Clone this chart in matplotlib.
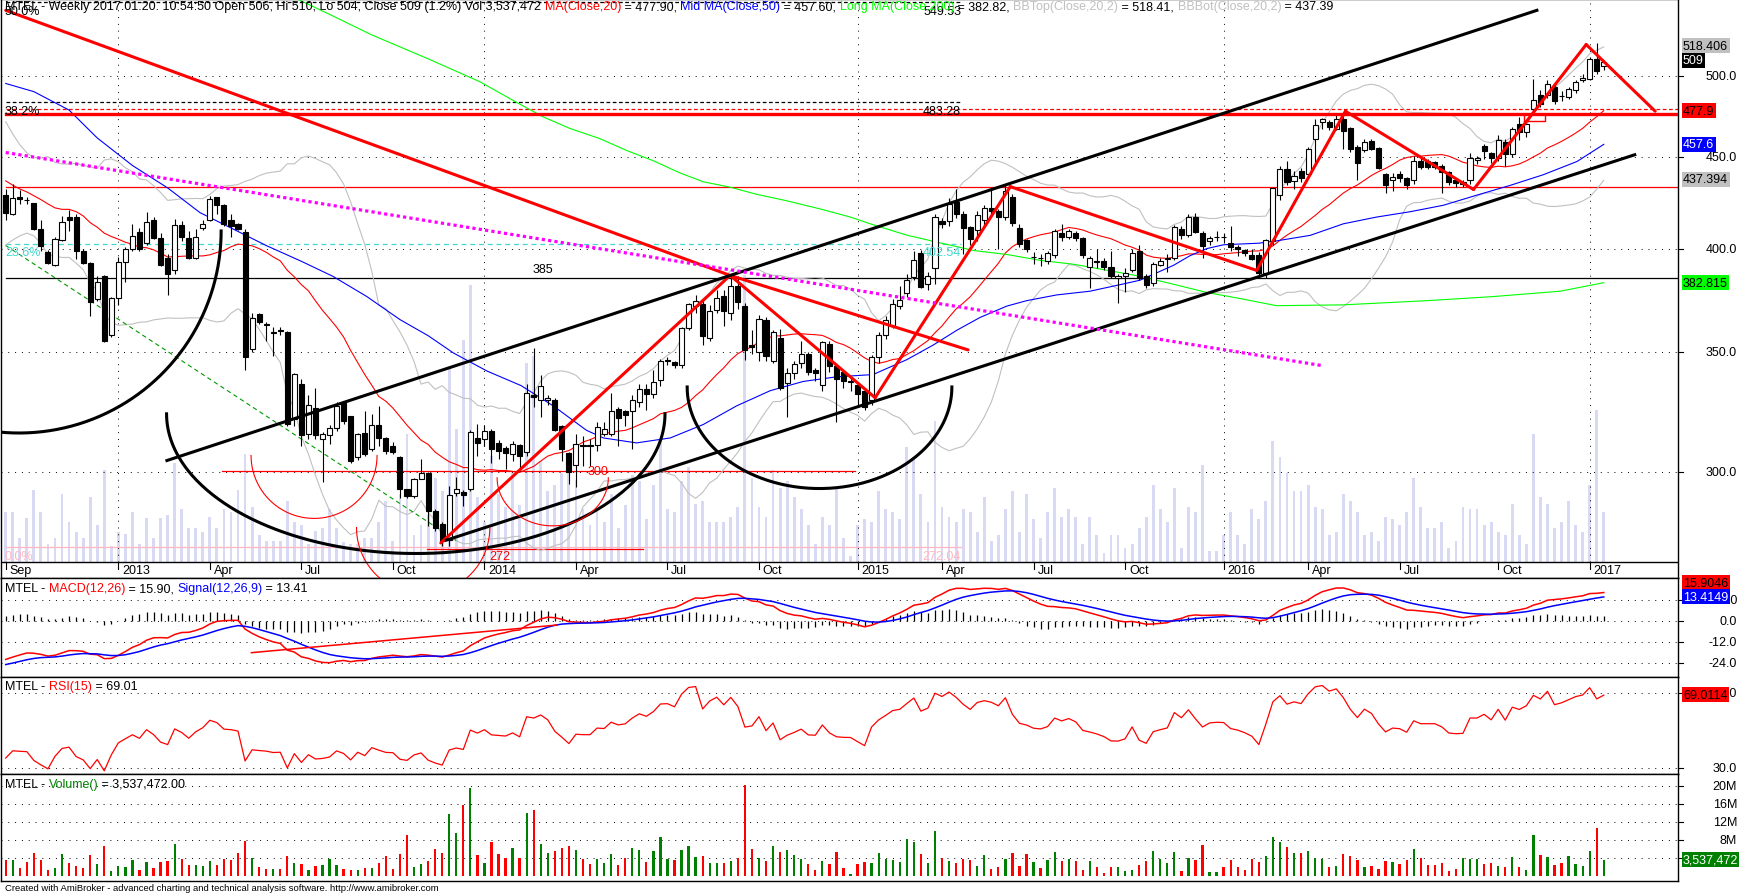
import numpy as np
import matplotlib
matplotlib.use("Agg")
import matplotlib.pyplot as plt
from matplotlib.transforms import blended_transform_factory

plt.rcParams['font.family'] = ['Liberation Sans', 'DejaVu Sans']

# MTEL weekly bars, first visible bar = first week of Sep 2012, last = 2017.01.20
opens = [
    428.8, 418.3, 427.6, 426.1, 424.3, 410.0, 398.2, 391.7, 404.3, 416.5,
    416.5, 399.0, 392.8, 374.9, 386.1, 357.9, 375.3, 393.3, 400.0, 408.9,
    402.7, 414.9, 405.7, 395.2, 389.0, 412.3, 405.7, 395.4, 410.6, 414.9,
    427.3, 422.9, 414.9, 413.1, 408.9, 351.3, 367.5, 362.9, 358.5, 360.0,
    359.2, 321.1, 336.0, 315.1, 325.8, 312.8, 314.3, 317.3, 327.6, 322.2,
    305.7, 315.4, 308.8, 318.6, 313.1, 310.2, 305.5, 293.3, 290.7, 297.1,
    299.4, 285.0, 280.5, 274.5, 291.9, 292.3, 293.3, 313.3, 312.8, 316.1,
    311.3, 309.4, 307.0, 310.4, 307.6, 331.0, 329.0, 329.0, 329.0, 318.0,
    307.3, 302.5, 310.4, 310.4, 310.4, 315.1, 315.1, 325.1, 324.2, 324.2,
    328.1, 333.7, 331.7, 337.6, 346.2, 345.5, 344.3, 360.9, 371.4, 372.5,
    356.6, 369.7, 376.4, 367.9, 381.3, 371.4, 353.3, 349.9, 364.6, 346.2,
    356.3, 336.2, 340.9, 345.2, 349.3, 342.1, 335.4, 353.7, 343.7, 341.1,
    336.8, 335.4, 333.0, 328.9, 347.8, 357.8, 362.0, 371.5, 377.6, 385.5,
    397.8, 382.2, 390.0, 414.5, 414.5, 424.9, 418.5, 411.2, 409.6, 414.9,
    421.5, 419.9, 416.5, 427.6, 410.6, 404.3, 395.6, 395.2, 393.7, 396.9,
    408.0, 406.0, 408.0, 405.7, 390.5, 393.5, 393.8, 390.5, 385.0, 386.3,
    389.1, 398.6, 386.1, 382.6, 391.5, 394.5, 395.4, 410.4, 407.1, 416.5,
    408.0, 403.7, 406.0, 406.2, 402.8, 400.8, 399.3, 396.6, 396.6, 387.5,
    403.9, 428.9, 443.2, 436.7, 442.3, 440.4, 461.0, 471.0, 471.0, 467.0,
    472.6, 467.4, 455.9, 454.1, 459.7, 455.3, 440.2, 437.0, 440.2, 437.9,
    436.9, 448.0, 447.7, 447.1, 445.1, 441.5, 436.9, 434.8, 436.9, 448.2,
    456.9, 452.3, 449.5, 459.2, 452.0, 469.8, 465.0, 478.7, 487.4, 487.6,
    492.7, 487.2, 486.6, 491.0, 497.4, 498.1, 511.2, 506.0,
]
highs = [
    432.0, 434.8, 431.4, 427.5, 424.5, 415.1, 399.3, 405.9, 417.0, 420.5,
    418.0, 400.0, 393.1, 386.2, 386.5, 375.9, 395.5, 401.0, 412.9, 411.0,
    419.3, 416.7, 408.0, 397.0, 415.7, 414.5, 409.0, 410.3, 414.9, 428.2,
    427.8, 423.7, 418.0, 413.5, 410.0, 368.0, 368.0, 363.8, 361.5, 361.5,
    359.5, 340.5, 338.0, 331.2, 334.0, 315.8, 318.5, 328.0, 328.0, 322.5,
    315.5, 324.5, 323.0, 326.5, 313.5, 311.5, 306.0, 293.5, 297.5, 304.8,
    300.0, 286.0, 281.0, 294.3, 298.0, 293.0, 316.5, 318.8, 318.4, 317.0,
    312.5, 310.0, 312.0, 311.0, 336.0, 351.7, 340.0, 331.0, 330.0, 318.5,
    307.5, 315.0, 314.0, 313.0, 320.0, 320.0, 332.0, 326.0, 325.0, 331.0,
    336.0, 336.0, 342.0, 347.0, 348.0, 346.0, 361.5, 373.0, 377.0, 375.0,
    372.0, 379.0, 379.0, 387.0, 386.0, 373.0, 360.0, 367.0, 366.0, 360.0,
    360.5, 343.0, 346.0, 355.0, 350.0, 343.0, 355.0, 355.0, 345.0, 342.0,
    339.0, 336.0, 334.0, 348.5, 359.0, 366.5, 375.0, 381.0, 387.0, 399.0,
    399.5, 388.0, 418.5, 416.0, 427.0, 432.2, 420.0, 412.0, 420.0, 423.0,
    432.0, 421.0, 434.8, 429.0, 413.0, 405.0, 398.5, 397.0, 399.0, 410.0,
    412.9, 410.0, 409.0, 406.0, 396.0, 400.0, 395.0, 399.0, 387.0, 390.0,
    400.0, 402.0, 387.0, 393.0, 395.0, 397.0, 412.5, 412.0, 418.5, 419.0,
    409.0, 406.5, 409.0, 408.0, 412.0, 402.0, 400.0, 400.0, 398.0, 405.0,
    433.0, 445.0, 448.0, 442.0, 444.0, 456.0, 472.8, 473.5, 472.0, 475.0,
    476.0, 468.0, 457.0, 461.0, 461.0, 456.0, 441.0, 441.0, 442.0, 439.0,
    451.0, 450.0, 449.0, 448.0, 446.0, 442.0, 438.0, 437.0, 452.5, 450.5,
    458.0, 453.0, 463.0, 461.0, 468.0, 474.0, 470.5, 498.1, 491.0, 497.0,
    496.0, 490.0, 493.0, 497.0, 501.0, 512.0, 521.5, 510.0,
]
lows = [
    414.9, 417.7, 423.7, 423.7, 409.6, 398.7, 392.1, 391.2, 403.7, 409.0,
    394.9, 392.0, 366.9, 374.0, 354.5, 356.9, 372.0, 383.0, 399.0, 399.0,
    402.0, 405.0, 391.0, 377.0, 387.0, 404.0, 394.8, 394.8, 409.8, 414.5,
    418.0, 412.0, 406.0, 409.5, 342.2, 350.0, 363.0, 355.0, 348.3, 357.8,
    318.0, 318.0, 310.0, 313.0, 313.0, 296.0, 311.0, 316.0, 319.0, 303.5,
    304.5, 306.0, 308.0, 310.0, 307.0, 307.0, 289.8, 290.0, 290.0, 297.0,
    279.5, 278.0, 272.6, 272.6, 290.5, 287.0, 292.5, 306.0, 310.0, 303.5,
    305.0, 300.8, 304.0, 300.4, 306.0, 325.9, 322.0, 327.0, 316.0, 304.0,
    295.4, 294.0, 302.0, 302.0, 308.0, 314.0, 314.0, 310.0, 318.0, 309.0,
    326.0, 325.0, 330.0, 335.0, 344.0, 343.0, 343.0, 360.0, 368.0, 353.0,
    355.0, 368.0, 362.0, 365.0, 370.0, 346.5, 349.0, 346.0, 346.0, 345.0,
    333.5, 322.0, 338.0, 343.0, 340.0, 337.0, 333.0, 341.0, 320.0, 334.0,
    333.0, 326.0, 324.6, 327.0, 345.0, 356.0, 361.0, 370.0, 376.0, 384.0,
    380.0, 379.0, 382.0, 411.0, 412.0, 416.0, 397.0, 402.0, 404.0, 412.0,
    418.0, 400.0, 415.0, 412.0, 401.0, 398.0, 392.0, 391.0, 392.0, 395.0,
    404.0, 405.0, 404.0, 395.0, 380.0, 390.0, 389.0, 385.0, 372.7, 378.0,
    388.0, 384.0, 380.0, 381.0, 391.0, 388.0, 394.0, 405.0, 406.0, 408.0,
    395.0, 402.0, 404.0, 403.0, 399.0, 396.0, 396.0, 394.0, 385.0, 385.0,
    402.0, 426.0, 434.0, 432.0, 436.0, 438.0, 447.0, 467.0, 466.0, 466.0,
    455.0, 453.0, 437.0, 453.0, 454.0, 443.0, 430.0, 431.0, 436.0, 432.0,
    435.0, 443.0, 443.0, 443.0, 430.0, 434.0, 433.0, 433.0, 435.0, 446.0,
    449.0, 447.0, 448.0, 445.0, 450.0, 460.0, 462.0, 477.0, 480.0, 486.0,
    482.0, 484.0, 485.0, 489.0, 496.0, 497.0, 501.0, 504.0,
]
closes = [
    418.9, 427.2, 426.3, 425.7, 410.0, 401.1, 392.4, 405.1, 413.9, 415.3,
    399.0, 392.6, 373.3, 383.1, 355.0, 375.3, 393.3, 400.0, 406.5, 400.0,
    414.1, 405.7, 391.7, 386.9, 412.3, 405.9, 395.4, 406.1, 413.1, 426.7,
    423.1, 412.9, 412.1, 410.0, 347.8, 365.7, 363.8, 362.4, 359.2, 359.6,
    318.8, 340.1, 314.3, 327.0, 314.3, 315.1, 317.3, 326.5, 320.3, 304.0,
    315.1, 306.9, 318.6, 313.1, 308.2, 307.6, 293.3, 290.7, 297.1, 299.4,
    285.0, 278.8, 274.2, 290.9, 293.3, 290.9, 315.8, 311.3, 316.1, 308.8,
    308.0, 307.2, 310.8, 306.0, 332.0, 330.5, 335.0, 329.8, 316.5, 308.8,
    299.9, 310.8, 310.2, 310.2, 317.6, 317.1, 324.2, 321.6, 322.7, 328.9,
    333.7, 331.7, 336.8, 346.0, 346.4, 344.3, 360.9, 372.3, 374.0, 357.2,
    369.1, 375.5, 369.1, 381.3, 373.2, 351.0, 352.5, 365.5, 348.1, 359.2,
    334.0, 340.5, 344.6, 349.3, 341.0, 340.5, 354.5, 343.7, 338.0, 337.2,
    337.0, 331.5, 326.1, 347.8, 357.8, 364.6, 372.3, 374.3, 384.0, 394.0,
    380.7, 385.9, 416.5, 413.0, 423.5, 418.0, 410.6, 404.9, 417.9, 421.5,
    419.9, 416.5, 431.1, 413.3, 402.2, 399.9, 395.9, 395.0, 397.9, 409.0,
    406.0, 409.0, 405.7, 396.9, 395.2, 393.2, 390.5, 386.1, 385.9, 387.6,
    397.6, 385.1, 381.7, 391.9, 393.8, 395.4, 411.4, 407.1, 416.5, 408.8,
    401.2, 405.5, 406.2, 406.0, 401.0, 399.7, 397.6, 394.8, 387.5, 404.3,
    432.6, 443.2, 435.7, 439.5, 438.0, 454.7, 469.4, 472.6, 468.0, 472.6,
    465.5, 455.0, 446.9, 459.2, 455.0, 443.7, 434.2, 438.9, 438.2, 434.3,
    447.7, 444.7, 444.7, 444.7, 441.8, 436.1, 435.5, 435.8, 449.8, 449.8,
    453.5, 449.5, 460.2, 452.0, 467.0, 465.2, 469.8, 484.8, 482.1, 494.6,
    484.0, 486.8, 491.4, 496.2, 498.8, 511.2, 502.9, 509.0,
]
# weekly volume, millions of shares
volume = [
    3.5, 3.5, 1.7, 3.1, 5.1, 3.5, 1.3, 1.7, 4.8, 2.8,
    2.1, 1.7, 4.6, 2.6, 6.5, 1.1, 2.1, 2.0, 3.5, 1.3,
    3.1, 1.7, 3.1, 3.3, 7.0, 3.7, 2.4, 2.4, 2.1, 3.2,
    2.4, 3.7, 3.5, 5.1, 7.6, 3.9, 1.9, 1.5, 1.5, 1.5,
    4.3, 2.8, 2.6, 1.3, 2.2, 2.4, 3.7, 2.4, 1.4, 1.3,
    1.25, 1.7, 1.7, 2.8, 4.3, 1.5, 4.8, 9.0, 1.9, 2.6,
    3.3, 5.9, 5.0, 13.6, 9.4, 15.6, 19.5, 4.6, 2.8, 7.5,
    4.8, 3.9, 6.25, 4.0, 14.0, 14.5, 7.1, 5.0, 5.4, 6.25,
    6.5, 5.8, 3.7, 2.6, 3.7, 2.8, 4.8, 2.4, 4.0, 6.1,
    5.7, 3.0, 5.4, 8.5, 3.7, 3.5, 5.7, 6.7, 4.1, 4.3,
    2.8, 2.8, 2.8, 3.2, 3.9, 20.2, 5.9, 3.9, 3.2, 6.5,
    5.2, 5.7, 4.6, 3.7, 2.6, 1.25, 3.2, 2.6, 5.2, 1.7,
    0.4, 2.6, 3.0, 2.8, 5.0, 3.7, 3.5, 3.0, 8.1, 7.4,
    4.8, 2.8, 9.9, 3.9, 3.2, 2.8, 3.7, 3.5, 2.1, 4.6,
    1.5, 1.9, 3.7, 5.0, 2.1, 4.8, 3.0, 1.7, 3.5, 5.2,
    3.2, 3.7, 3.2, 1.25, 3.2, 1.9, 0.6, 1.9, 1.9, 1.0,
    1.25, 2.4, 3.2, 5.4, 3.7, 2.8, 5.2, 1.0, 3.9, 3.5,
    6.8, 0.8, 0.8, 1.9, 3.5, 1.9, 1.25, 3.7, 3.0, 4.3,
    8.5, 7.4, 6.3, 5.0, 5.0, 5.4, 3.9, 3.7, 1.9, 2.1,
    4.8, 4.3, 3.5, 1.9, 2.1, 1.5, 3.2, 3.0, 2.6, 3.5,
    5.9, 3.9, 2.4, 2.4, 2.8, 1.0, 1.5, 3.9, 3.7, 3.7,
    2.6, 2.8, 2.1, 1.9, 4.1, 1.9, 1.25, 9.0, 4.6, 4.1,
    2.4, 2.8, 4.3, 2.6, 2.1, 5.4, 10.7, 3.54,
]
# closes of the weeks before the first visible bar (warm-up for MA20/BB/MACD/RSI)
pre_closes = [
    555, 562, 570, 565, 558, 552, 560, 568, 575, 566, 560, 553, 548,
    556, 562, 555, 549, 544, 550, 557, 551, 545, 540, 547, 541, 536,
    528, 519, 512, 505, 497, 490, 481, 476, 468, 459, 452, 444,
    440, 448, 430, 415, 424, 438, 446, 432, 418, 410, 422, 432, 426, 432,
]

# Mid MA(50) and Long MA(200) (bar, value)
ma50_x = [0, 4, 9, 13, 18, 23, 27.6, 32, 37, 42, 46.5, 51.3, 56, 60, 63.6, 68.4,
          73.2, 77.8, 82.5, 84.9, 89.6, 94.4, 99.1, 103.8, 108.6, 113.3, 118,
          123.2, 128, 131.8, 135.1, 138.4, 142.2, 145, 149.3, 154, 158.8, 161.1,
          163.5, 165.9, 168.2, 170.6, 173, 178, 180.5, 185.3, 190, 194.7, 199.5,
          204.2, 209, 213.7, 218.4, 223.2, 227]
ma50_y = [495, 489.8, 478.3, 461.4, 445.3, 432.6, 419, 410.8, 401.6, 393.5, 385.9,
          376, 365, 357.5, 349.6, 341.5, 335.2, 326.5, 316.4, 313.3, 311.3, 313.3,
          318.8, 326.5, 333, 337, 339, 340, 346.6, 353.3, 360, 366, 371.4, 374,
          376.8, 378.6, 382.2, 384, 387.7, 391.5, 396.3, 400, 402, 402.8, 404,
          406.9, 413, 416.6, 419.5, 423, 428.6, 434, 440, 447.6, 457.6]
ma200_x = [38, 41.4, 46.5, 52, 60, 67.4, 72.6, 76.4, 80.2, 84.4, 88.2, 92, 95.8,
           99.1, 102.9, 106.7, 110.9, 115.7, 120, 122.8, 128, 132.7, 137.5, 142.2,
           146.9, 151.7, 156.4, 161.1, 165.9, 170.6, 175.4, 180.5, 190, 201.8,
           211.3, 220.8, 227]
ma200_y = [562, 552, 540, 527, 511, 496, 483, 474, 467, 461, 454, 448, 441, 436,
           433, 429, 425.5, 421, 416.6, 413, 407, 403, 399, 397, 394, 392, 389,
           386, 382, 378, 375, 371.6, 372, 374, 376, 378.6, 382.8]

tick_bars = [0, 16, 29, 42, 55, 68, 81, 94, 107, 121, 133, 146, 159, 173, 185, 198, 212, 225]
tick_names = ['Sep', '2013', 'Apr', 'Jul', 'Oct', '2014', 'Apr', 'Jul', 'Oct',
              '2015', 'Apr', 'Jul', 'Oct', '2016', 'Apr', 'Jul', 'Oct', '2017']
year_bars = [16, 68, 121, 173, 225]

# hand drawn studies, (bar, price) end points
red_trend = [(0, 544.0, 102.9, 386.4), (61.8, 273.6, 102.9, 386.4),
             (102.9, 386.4, 123.5, 330.0), (102.9, 386.4, 136.7, 351.0),
             (123.5, 330.0, 142.7, 433.3), (142.7, 433.3, 177.7, 388.9),
             (177.7, 388.9, 190.3, 477.6), (190.3, 477.6, 208.5, 431.7),
             (208.5, 431.7, 224.5, 520.5), (224.5, 520.5, 234.3, 477.6)]
channel = [(22.9, 304.3, 217.5, 544.0), (62.6, 274.6, 231.4, 451.5)]
magenta_line = (0, 452.8, 186.9, 344.0)
green_dash = (0, 401.6, 64, 274.5)
# ellipse arcs: centre bar, centre price, half width (bars), lowest price, start/end angle
black_arcs = [(1.9, 409.2, 28.7, 315.3, -100, 0),
              (58.25, 323.2, 35.4, 269.9, 180, 360),
              (115.6, 334.6, 18.8, 293.5, 180, 360)]
red_arcs = [(43.8, 306.3, 8.95, 282.4, 180, 360),
            (59.3, 279.1, 9.47, 256.1, 180, 360),
            (77.7, 297.6, 7.9, 279.7, 180, 360)]
fib_names = ['0.0%', '23.6%', '38.2%', '50.0%']
fib_prices = [272.04, 402.54, 483.28, 549.53]
fib_end = 135.7

o = np.array(opens); h = np.array(highs); l = np.array(lows); c = np.array(closes)
v = np.array(volume)
x = np.arange(len(c))
up = c >= o

# ---- indicators
c_all = np.array(pre_closes + closes, dtype=float)
n_pre = len(pre_closes)


def ema(a, n):
    k = 2.0 / (n + 1)
    out = np.empty(len(a))
    out[0] = a[0]
    for i in range(1, len(a)):
        out[i] = k * a[i] + (1 - k) * out[i - 1]
    return out


def rsi(a, n):
    d = np.diff(a)
    g = np.clip(d, 0, None)
    ls = np.clip(-d, 0, None)
    ag, al = g[:n].mean(), ls[:n].mean()
    out = np.full(len(a), np.nan)
    for i in range(n, len(a)):
        if i > n:
            ag = (ag * (n - 1) + g[i - 1]) / n
            al = (al * (n - 1) + ls[i - 1]) / n
        out[i] = 100 - 100 / (1 + ag / al)
    return out


ma20 = np.array([c_all[i - 19:i + 1].mean() for i in range(19, len(c_all))])[n_pre - 19:]
sd20 = np.array([c_all[i - 19:i + 1].std() for i in range(19, len(c_all))])[n_pre - 19:]
bb_top = ma20 + 2 * sd20
bb_bot = ma20 - 2 * sd20
macd_all = ema(c_all, 12) - ema(c_all, 26)
macd = macd_all[n_pre:]
signal = ema(macd_all, 9)[n_pre:]
rsi15 = rsi(c_all, 15)[n_pre:]

# ---- layout (pixel based, 1739 x 895)
W, H = 1739, 895
fig = plt.figure(figsize=(W / 100, H / 100), dpi=100)
fig.patch.set_facecolor('white')


def add_ax(top, bottom, left=1, right=1678):
    return fig.add_axes([left / W, 1 - bottom / H, (right - left) / W, (bottom - top) / H])


XL = ((1 - 5.7) / 7.04, (1678 - 5.7) / 7.04)
DOT = (0, (1, 6))


def fx(px):
    return (px - 1) / 1677


def clean(a):
    a.set_xlim(XL)
    a.set_xticks([])
    a.set_yticks([])
    a.set_yticks([], minor=True)
    for s in a.spines.values():
        s.set_linewidth(1.0)


# background volume
ax_bg = add_ax(0, 579)
ax_bg.set_xlim(XL)
ax_bg.set_ylim(-16 / 14.2, 563 / 14.2)
ax_bg.bar(x, v, width=0.4, color='#D8DAF4', lw=0)
ax_bg.axis('off')

ax = add_ax(0, 579)
ax.set_facecolor('none')
ax.set_yscale('log')
ax.set_ylim(261.5, 552.0)
clean(ax)
tr = blended_transform_factory(ax.transAxes, ax.transData)
trx = blended_transform_factory(ax.transData, ax.transAxes)
sep = 16 / 579

for p in (300, 350, 400, 450, 500):
    ax.axhline(p, color='black', lw=0.7, ls=DOT, zorder=1)
for b in year_bars:
    ax.plot([b, b], [sep, 1], transform=trx, color='black', lw=0.7, ls=DOT, zorder=1)

# horizontal studies
ax.plot([0, XL[1]], [385, 385], color='black', lw=0.9, zorder=2)
ax.plot([0, XL[1]], [433.3, 433.3], color='#FF0000', lw=0.9, zorder=2)
ax.plot([0, XL[1]], [476.0, 476.0], color='#FF0000', lw=2.4, zorder=6)
ax.plot([0, XL[1]], [478.7, 478.7], color='#FF0000', lw=0.9, ls=(0, (3, 2)), zorder=2)
ax.plot([30.7, 120.6], [300.4, 300.4], color='#FF0000', lw=0.9, zorder=2)
ax.plot([59.8, 90.5], [271.5, 271.5], color='#FF0000', lw=0.9, zorder=2)
fib_cols = ['#FFB6C1', '#40D8D0', 'black', 'black']
fib_ls = ['-', (0, (4, 3)), (0, (3, 2)), (0, (3, 2))]
for name, p, col, ls in zip(fib_names, fib_prices, fib_cols, fib_ls):
    ax.plot([0, fib_end], [p, p], color=col, lw=0.9, ls=ls, zorder=2)
    ax.annotate(name, (-0.1, p), xytext=(0, -2), textcoords='offset points',
                ha='left', va='top', fontsize=9, color=col, zorder=8)
    ax.annotate(f'{p:.2f}', (fib_end, p), xytext=(0, -2), textcoords='offset points',
                ha='right', va='top', fontsize=9, color=col, zorder=8)

# moving averages and bands
ax.plot(x, ma20, color='#FF0000', lw=0.8, zorder=3)
ax.plot(x, bb_top, color='#C0C0C0', lw=0.8, zorder=3)
ax.plot(x, bb_bot, color='#C0C0C0', lw=0.8, zorder=3)
ax.plot(ma50_x, ma50_y, color='#0000FF', lw=0.8, zorder=3)
ax.plot(ma200_x, ma200_y, color='#00FF00', lw=0.8, zorder=3)

# candles
lo_body = np.minimum(o, c)
hi_body = np.maximum(o, c)
ax.vlines(x, np.minimum(l, lo_body), np.maximum(h, hi_body), color='black', lw=0.8, zorder=4)
ax.bar(x, hi_body - lo_body, bottom=lo_body, width=0.72,
       color=np.where(up, 'white', 'black'), edgecolor='black', lw=0.8, zorder=5)

# drawn studies
for b0, p0, b1, p1 in red_trend:
    ax.plot([b0, b1], [p0, p1], color='#FF0000', lw=2.2, zorder=6, solid_capstyle='round')
for b0, p0, b1, p1 in channel:
    ax.plot([b0, b1], [p0, p1], color='black', lw=2.2, zorder=6)
b0, p0, b1, p1 = magenta_line
ax.plot([b0, b1], [p0, p1], color='#FF00FF', lw=2.3, ls=(0, (1, 1)), zorder=6,
        dash_capstyle='butt')
b0, p0, b1, p1 = green_dash
ax.plot([b0, b1], [p0, p1], color='#009900', lw=0.8, ls=(0, (4, 3)), zorder=3)


def arc(bc, pc, a, pbot, t0, t1):
    t = np.radians(np.linspace(t0, t1, 240))
    k = np.log(pc / pbot)
    return bc + a * np.cos(t), pc * np.exp(k * np.sin(t))


for spec in black_arcs:
    ax.plot(*arc(*spec), color='black', lw=2.2, zorder=6)
for spec in red_arcs:
    ax.plot(*arc(*spec), color='#FF0000', lw=0.8, zorder=6)
ax.plot([215.6, 218.6, 218.6, 215.6, 215.6], [471.4, 471.4, 475.8, 475.8, 471.4],
        color='#FF0000', lw=1.0, zorder=6)

ax.text(76.3, 386.5, '385', ha='center', va='bottom', fontsize=9, zorder=8)
ax.text(84.2, 300.4, '300', ha='center', va='center', fontsize=9, color='#FF0000', zorder=8)
ax.annotate('272', (70.2, 271.5), xytext=(0, -1), textcoords='offset points',
            ha='center', va='top', fontsize=9, color='#FF0000', zorder=8)

# date strip
ax.plot([0, 1], [sep, sep], transform=ax.transAxes, color='black', lw=1.0, zorder=9)
for b, name in zip(tick_bars, tick_names):
    ax.plot([b, b], [sep, sep - 7 / 579], transform=trx, color='black', lw=0.8, zorder=9)
    ax.text(b + 0.55, sep - 2 / 579, name, transform=trx, ha='left', va='top', fontsize=9)

# right price scale
for p in (500, 450, 400, 350, 300):
    ax.plot([1, fx(1683)], [p, p], transform=tr, color='black', lw=0.8, clip_on=False)
    ax.text(fx(1737), p, f'{p:.1f}', transform=tr, ha='right', va='center', fontsize=9)


def box(a, trans, val, txt, fc, tc):
    a.text(fx(1683), val, txt, transform=trans, ha='left', va='center', fontsize=9,
           color=tc, zorder=20, bbox=dict(boxstyle='square,pad=0.12', fc=fc, ec='none'))


box(ax, tr, 519.8, '518.406', '#C0C0C0', 'black')
box(ax, tr, 510.2, '509', 'black', 'white')
box(ax, tr, 477.9, '477.9', '#FF0000', 'black')
box(ax, tr, 457.6, '457.6', '#0000FF', 'white')
box(ax, tr, 437.4, '437.394', '#C0C0C0', 'black')
box(ax, tr, 382.8, '382.815', '#00FF00', 'black')

# ---- MACD pane
axm = add_ax(579, 677.5)
clean(axm)
axm.set_ylim(-31.6, 24.2)
trm = blended_transform_factory(axm.transAxes, axm.transData)
for val in (12, 0, -12, -24):
    axm.axhline(val, color='black', lw=0.7, ls=DOT, zorder=1)
    axm.plot([1, fx(1683)], [val, val], transform=trm, color='black', lw=0.8, clip_on=False)
    axm.text(fx(1737), val, f'{val:.1f}', transform=trm, ha='right', va='center', fontsize=9)
axm.vlines(x, 0, macd - signal, color='black', lw=0.9, zorder=2)
axm.plot(x, macd, color='#FF0000', lw=1.1, zorder=3)
axm.plot(x, signal, color='#0000FF', lw=1.1, zorder=3)
axm.plot([34.9, 78.3], [-18.1, -2.45], color='#FF0000', lw=1.1, zorder=3)
box(axm, trm, 21.5, '15.9046', '#FF0000', 'black')
box(axm, trm, 13.6, '13.4149', '#0000FF', 'white')

# ---- RSI pane
axr = add_ax(677.5, 775)
clean(axr)
axr.set_ylim(26.8, 78.8)
trr = blended_transform_factory(axr.transAxes, axr.transData)
for val in (70, 30):
    axr.axhline(val, color='black', lw=0.7, ls=DOT, zorder=1)
    axr.plot([1, fx(1683)], [val, val], transform=trr, color='black', lw=0.8, clip_on=False)
    axr.text(fx(1737), val, f'{val:.1f}', transform=trr, ha='right', va='center', fontsize=9)
axr.plot(x, rsi15, color='#FF0000', lw=0.9, zorder=3)
box(axr, trr, 69.0, '69.0114', '#FF0000', 'black')

# ---- volume pane
axv = add_ax(775, 882)
clean(axv)
axv.set_ylim(-1.18, 22.6)
trv = blended_transform_factory(axv.transAxes, axv.transData)
for val in (20, 16, 12, 8, 4):
    axv.axhline(val, color='black', lw=0.7, ls=DOT, zorder=1)
    axv.plot([1, fx(1683)], [val, val], transform=trv, color='black', lw=0.8, clip_on=False)
    axv.text(fx(1737), val, f'{val}M', transform=trv, ha='right', va='center', fontsize=9)
axv.bar(x, v, width=0.32, color=np.where(up, '#008000', '#FF0000'), lw=0, zorder=3)
box(axv, trv, 3.54, '3,537,472', '#008000', 'white')

# ---- coloured headers
renderer = fig.canvas.get_renderer()


def text_width(s, size):
    t = fig.text(0, 0, s + '|', fontsize=size)
    w = t.get_window_extent(renderer=renderer).width
    t.remove()
    t = fig.text(0, 0, '|', fontsize=size)
    w -= t.get_window_extent(renderer=renderer).width
    t.remove()
    return w


def header(x_px, y_px, parts, size=9):
    done = ''
    for s, col in parts:
        xx = x_px + text_width(done, size) if done else x_px
        fig.text(xx / W, 1 - y_px / H, s, color=col, fontsize=size, ha='left', va='top', zorder=30)
        done += s


header(5, 1, [('MTEL - Weekly 2017.01.20. 10:54:50 Open 506, Hi 510, Lo 504, Close 509 (1.2%) '
               'Vol 3,537,472 ', 'black'),
              ('MA(Close,20)', '#FF0000'), (' = 477.90, ', 'black'),
              ('Mid MA(Close,50)', '#0000FF'), (' = 457.60, ', 'black'),
              ('Long MA(Close,200)', '#00FF00'), (' = 382.82, ', 'black'),
              ('BBTop(Close,20,2)', '#C0C0C0'), (' = 518.41, ', 'black'),
              ('BBBot(Close,20,2)', '#C0C0C0'), (' = 437.39', 'black')])
header(5, 583, [('MTEL - ', 'black'), ('MACD(12,26)', '#FF0000'), (' = 15.90, ', 'black'),
                ('Signal(12,26,9)', '#0000FF'), (' = 13.41', 'black')])
header(5, 681, [('MTEL - ', 'black'), ('RSI(15)', '#FF0000'), (' = 69.01', 'black')])
header(5, 779, [('MTEL - ', 'black'), ('Volume()', '#008000'), (' = 3,537,472.00', 'black')])
fig.text(5 / W, 1 - 884 / H, 'Created with AmiBroker - advanced charting and technical analysis '
         'software. http://www.amibroker.com', fontsize=6.8, ha='left', va='top')

fig.savefig('out.png', dpi=100)
